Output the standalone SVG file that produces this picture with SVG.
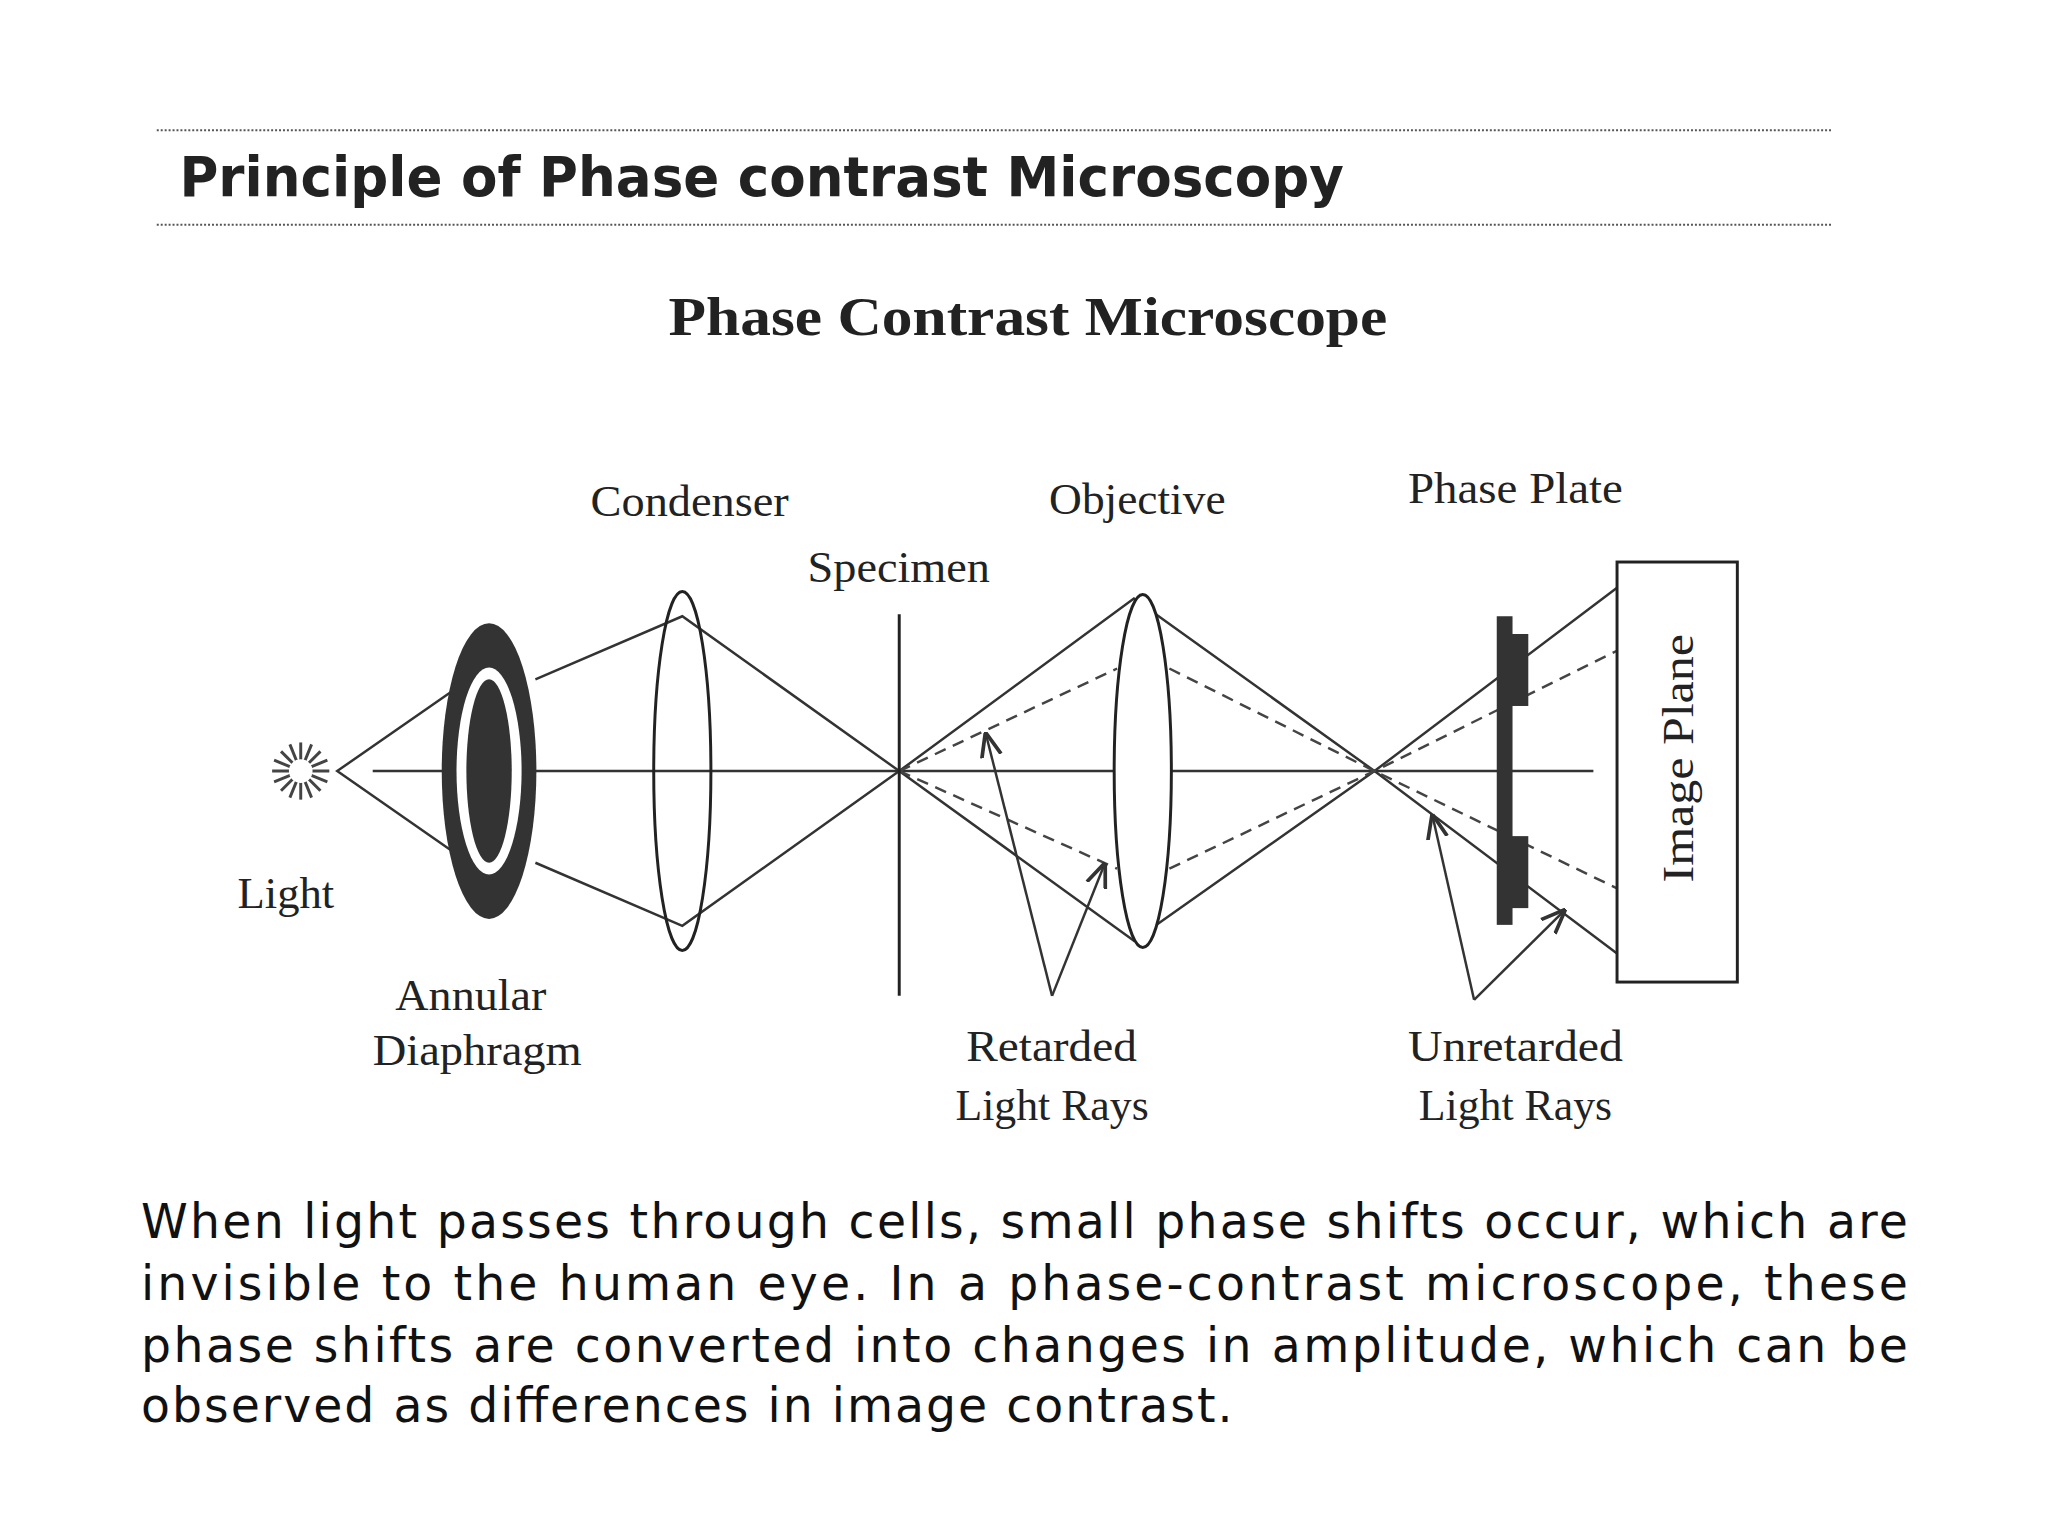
<svg xmlns="http://www.w3.org/2000/svg" width="2048" height="1536" viewBox="0 0 2048 1536">
<defs>
<style>
.lb{font-family:"Liberation Serif",serif;font-size:44px;fill:#222}
.ln{stroke:#333;stroke-width:2.5;fill:none}
.ds{stroke:#444;stroke-width:2.5;fill:none;stroke-dasharray:12 8}
.p{font-family:"DejaVu Sans",sans-serif;font-size:48px;fill:#111}
</style>
<marker id="ar" viewBox="0 0 10 10" refX="9" refY="5" markerWidth="10" markerHeight="10" orient="auto"><path d="M0,1 L10,5 L0,9" fill="none" stroke="#333" stroke-width="1.5"/></marker>
</defs>
<rect width="2048" height="1536" fill="#fff"/>
<g transform="scale(0.986)">
<line x1="159" y1="132" x2="1858" y2="132" stroke="#555" stroke-width="2" stroke-dasharray="2 2"/>
<line x1="159" y1="228" x2="1858" y2="228" stroke="#555" stroke-width="2" stroke-dasharray="2 2"/>
<text x="182" y="199" font-family="DejaVu Sans,sans-serif" font-weight="bold" font-size="56" fill="#222" textLength="1181" lengthAdjust="spacingAndGlyphs">Principle of Phase contrast Microscopy</text>
<text x="678" y="340" font-family="Liberation Serif,serif" font-weight="bold" font-size="56" fill="#222" textLength="729" lengthAdjust="spacingAndGlyphs">Phase Contrast Microscope</text>
<g id="connectors">
<line class="ln" x1="378" y1="782" x2="1616" y2="782" stroke="#666"/>
<polyline class="ln" points="457,702 342,782 457,862"/>
<polyline class="ln" points="543,689 692,625 912,782 692,939 543,875"/>
<polyline class="ln" points="912,782 1150,607 1394,782 1640,967"/>
<polyline class="ln" points="912,782 1150,954 1394,782 1640,596"/>
<polyline class="ds" points="912,782 1133,678"/>
<polyline class="ds" points="912,782 1133,881"/>
<polyline class="ds" points="1186,678 1394,782 1640,901"/>
<polyline class="ds" points="1186,881 1394,782 1640,660"/>
<line class="ln" stroke-width="2" x1="1067" y1="1010" x2="1000" y2="745" marker-end="url(#ar)"/>
<line class="ln" stroke-width="2" x1="1067" y1="1010" x2="1120" y2="877" marker-end="url(#ar)"/>
<line class="ln" stroke-width="2" x1="1495" y1="1014" x2="1453" y2="828" marker-end="url(#ar)"/>
<line class="ln" stroke-width="2" x1="1495" y1="1014" x2="1586" y2="924" marker-end="url(#ar)"/>
</g>
<g id="light">
<g stroke="#444" stroke-width="3">
<line x1="276" y1="782" x2="334" y2="782"/><line x1="305" y1="753" x2="305" y2="811"/>
<line x1="285" y1="762" x2="325" y2="802"/><line x1="285" y1="802" x2="325" y2="762"/>
<line x1="278" y1="771" x2="332" y2="793"/><line x1="278" y1="793" x2="332" y2="771"/>
<line x1="294" y1="755" x2="316" y2="809"/><line x1="316" y1="755" x2="294" y2="809"/>
</g>
<circle cx="305" cy="782" r="12" fill="#fff"/>
<text class="lb" x="241" y="921" textLength="98" lengthAdjust="spacingAndGlyphs">Light</text>
</g>
<g id="diaphragm">
<ellipse cx="496" cy="782" rx="48" ry="150" fill="#333"/>
<ellipse cx="496" cy="782" rx="33" ry="105" fill="#fff"/>
<ellipse cx="496" cy="782" rx="23" ry="93" fill="#333"/>
<text class="lb" x="401" y="1024" textLength="153" lengthAdjust="spacingAndGlyphs">Annular</text>
<text class="lb" x="378" y="1080" textLength="212" lengthAdjust="spacingAndGlyphs">Diaphragm</text>
</g>
<g id="condenser">
<ellipse cx="692" cy="782" rx="29" ry="182" fill="none" stroke="#222" stroke-width="3"/>
<text class="lb" x="599" y="523" textLength="201" lengthAdjust="spacingAndGlyphs">Condenser</text>
</g>
<g id="specimen">
<line x1="912" y1="623" x2="912" y2="1010" stroke="#222" stroke-width="3"/>
<text class="lb" x="819" y="590" textLength="185" lengthAdjust="spacingAndGlyphs">Specimen</text>
</g>
<g id="objective">
<ellipse cx="1159" cy="782" rx="29" ry="179" fill="#fff" stroke="#222" stroke-width="3"/>
<text class="lb" x="1064" y="521" textLength="179" lengthAdjust="spacingAndGlyphs">Objective</text>
</g>
<g id="phaseplate">
<rect x="1518" y="625" width="16" height="313" fill="#333"/>
<rect x="1532" y="643" width="18" height="73" fill="#333"/>
<rect x="1532" y="848" width="18" height="73" fill="#333"/>
<text class="lb" x="1428" y="510" textLength="218" lengthAdjust="spacingAndGlyphs">Phase Plate</text>
</g>
<g id="imageplane">
<rect x="1640" y="570" width="122" height="426" fill="#fff" stroke="#222" stroke-width="3"/>
<text class="lb" transform="translate(1717,769) rotate(-90)" text-anchor="middle" font-size="42" textLength="252" lengthAdjust="spacingAndGlyphs">Image Plane</text>
</g>
<g id="retarded">
<text class="lb" x="980" y="1076" textLength="173" lengthAdjust="spacingAndGlyphs">Retarded</text>
<text class="lb" x="969" y="1136" textLength="196" lengthAdjust="spacingAndGlyphs">Light Rays</text>
</g>
<g id="unretarded">
<text class="lb" x="1428" y="1076" textLength="218" lengthAdjust="spacingAndGlyphs">Unretarded</text>
<text class="lb" x="1439" y="1136" textLength="196" lengthAdjust="spacingAndGlyphs">Light Rays</text>
</g>
<g id="caption">
<text class="p" x="143" y="1256" textLength="1792" lengthAdjust="spacing">When light passes through cells, small phase shifts occur, which are</text>
<text class="p" x="143" y="1318" textLength="1792" lengthAdjust="spacing">invisible to the human eye. In a phase-contrast microscope, these</text>
<text class="p" x="143" y="1381" textLength="1792" lengthAdjust="spacing">phase shifts are converted into changes in amplitude, which can be</text>
<text class="p" x="143" y="1442" textLength="1107" lengthAdjust="spacing">observed as differences in image contrast.</text>
</g>
</g>
</svg>
